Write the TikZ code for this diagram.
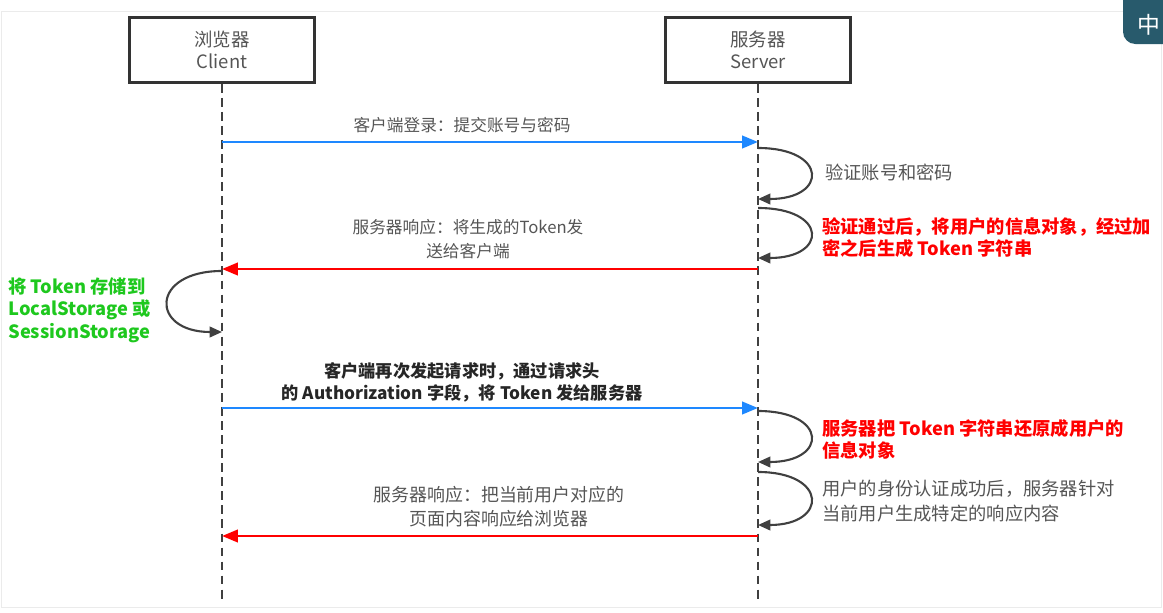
\documentclass[tikz,border=0pt]{standalone}
\usepackage{fontspec}
\setmainfont{Noto Sans CJK SC}
\usetikzlibrary{arrows.meta}
\definecolor{msgblue}{RGB}{30,136,255}
\definecolor{msgred}{RGB}{255,0,0}
\definecolor{notegreen}{RGB}{30,200,30}
\definecolor{txtgray}{RGB}{85,85,85}
\definecolor{imebg}{RGB}{40,90,108}
\tikzset{
  actor/.style={draw=black!80, line width=1.4pt, minimum width=3.7cm, minimum height=1.3cm,
    align=center, text=txtgray, font=\fontsize{10.5}{12.5}\selectfont},
  lifeline/.style={draw=black!75, line width=1.1pt, dash pattern=on 5pt off 3pt},
  msg/.style={line width=1.6pt, -{Triangle[length=9pt,width=7pt]}},
  selfloop/.style={draw=black!75, line width=1.2pt, -{Triangle[length=7pt,width=6pt]}},
  lbl/.style={align=center, inner sep=0pt, text=txtgray, font=\fontsize{9.5}{13.5}\selectfont},
  note/.style={align=left, anchor=west, inner sep=0pt, font=\fontsize{10.4}{12.8}\selectfont}
}
\begin{document}
\begin{tikzpicture}[x=0.02cm,y=-0.02cm]
  \useasboundingbox (0,0) rectangle (1163,612);
  \draw[black!8] (1,11) rectangle (1161,607);
  \node[actor] (client) at (222,50) {浏览器\\Client};
  \node[actor] (server) at (758,50) {服务器\\Server};
  \coordinate (cend) at (222,600);
  \coordinate (send) at (758,600);
  \draw[lifeline] (client.south) -- (cend);
  \draw[lifeline] (server.south) -- (send);
  % points on the lifelines
  \coordinate (c1) at (222,142); \coordinate (s1) at (758,142);
  \coordinate (s2) at (758,148); \coordinate (s3) at (758,199);
  \coordinate (s4) at (758,208); \coordinate (s5) at (758,258);
  \coordinate (c2) at (222,269); \coordinate (s6) at (758,269);
  \coordinate (c3) at (222,271); \coordinate (c4) at (222,332);
  \coordinate (c5) at (222,408); \coordinate (s7) at (758,408);
  \coordinate (s8) at (758,411); \coordinate (s9) at (758,462);
  \coordinate (s10) at (758,472); \coordinate (s11) at (758,525);
  \coordinate (c6) at (222,536); \coordinate (s12) at (758,536);
  % messages
  \draw[msg, msgblue] (c1) -- (s1);
  \draw[selfloop] (s2) .. controls +(70,0) and +(70,0) .. (s3);
  \draw[selfloop] (s4) .. controls +(70,0) and +(70,0) .. (s5);
  \draw[msg, msgred] (s6) -- (c2);
  \draw[selfloop] (c3) .. controls +(-72,0) and +(-72,0) .. (c4);
  \draw[msg, msgblue] (c5) -- (s7);
  \draw[selfloop] (s8) .. controls +(70,0) and +(70,0) .. (s9);
  \draw[selfloop] (s10) .. controls +(70,0) and +(70,0) .. (s11);
  \draw[msg, msgred] (s12) -- (c6);
  % labels
  \node[lbl] (login) at (462,125) {客户端登录：提交账号与密码};
  \node[note, text=txtgray] (check) at (825,173) {验证账号和密码};
  \node[note, text=msgred, font=\fontsize{10.4}{12.5}\selectfont\bfseries] (sign) at (822,238)
    {验证通过后，将用户的信息对象，经过加\\密之后生成 Token 字符串};
  \node[lbl] (reply) at (468,239) {服务器响应：将生成的Token发\\送给客户端};
  \node[note, text=notegreen, font=\fontsize{10.4}{12.8}\selectfont\bfseries] (store) at (8,310)
    {将 Token 存储到\\LocalStorage 或\\SessionStorage};
  \node[lbl, text=black!85, font=\fontsize{9.8}{12.5}\selectfont\bfseries] (again) at (462,382)
    {客户端再次发起请求时，通过请求头\\的 Authorization 字段，将 Token 发给服务器};
  \node[note, text=msgred, font=\fontsize{10.4}{12.5}\selectfont\bfseries] (decode) at (822,439)
    {服务器把 Token 字符串还原成用户的\\信息对象};
  \node[note, text=txtgray, font=\fontsize{10.4}{14}\selectfont] (auth) at (822,501)
    {用户的身份认证成功后，服务器针对\\当前用户生成特定的响应内容};
  \node[lbl, font=\fontsize{10.2}{13.5}\selectfont] (page) at (499,507)
    {服务器响应：把当前用户对应的\\页面内容响应给浏览器};
  % input method badge
  \fill[imebg, rounded corners=7pt] (1123,-12) rectangle (1180,44);
  \node[text=white, font=\fontsize{13}{13}\selectfont] (ime) at (1149,25) {中};
\end{tikzpicture}
\end{document}
